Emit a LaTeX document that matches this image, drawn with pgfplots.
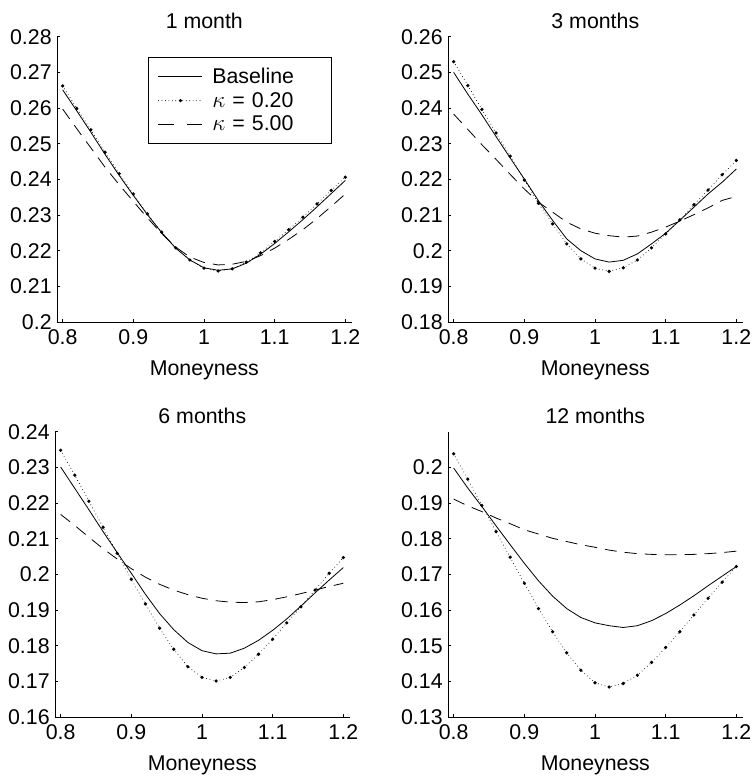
\documentclass[border=0pt]{standalone}
\usepackage{fontspec}
\setmainfont{Liberation Sans}
\usepackage{pgfplots}
\usepackage{pgfplotstable}
\pgfplotsset{compat=1.18}

\pgfplotstableread{
x base k02 k5
0.80 0.2651 0.2662 0.2597
0.82 0.2592 0.2599 0.2542
0.84 0.2532 0.2539 0.2488
0.86 0.2470 0.2476 0.2434
0.88 0.2411 0.2416 0.2385
0.90 0.2355 0.2359 0.2338
0.92 0.2301 0.2303 0.2292
0.94 0.2251 0.2252 0.2248
0.96 0.2207 0.2208 0.2210
0.98 0.2174 0.2174 0.2182
1.00 0.2152 0.2151 0.2167
1.02 0.2145 0.2143 0.2160
1.04 0.2149 0.2149 0.2162
1.06 0.2165 0.2168 0.2170
1.08 0.2190 0.2194 0.2186
1.10 0.2220 0.2226 0.2207
1.12 0.2253 0.2259 0.2232
1.14 0.2287 0.2294 0.2259
1.16 0.2323 0.2331 0.2290
1.18 0.2360 0.2369 0.2324
1.20 0.2397 0.2406 0.2359
}\tA

\pgfplotstableread{
x base k02 k5
0.80 0.2500 0.2530 0.2383
0.82 0.2439 0.2463 0.2340
0.84 0.2381 0.2396 0.2297
0.86 0.2320 0.2330 0.2256
0.88 0.2260 0.2265 0.2214
0.90 0.2201 0.2198 0.2173
0.92 0.2140 0.2133 0.2136
0.94 0.2085 0.2075 0.2108
0.96 0.2033 0.2019 0.2080
0.98 0.2000 0.1977 0.2061
1.00 0.1977 0.1951 0.2049
1.02 0.1968 0.1942 0.2042
1.04 0.1973 0.1952 0.2038
1.06 0.1991 0.1974 0.2041
1.08 0.2019 0.2008 0.2052
1.10 0.2049 0.2047 0.2066
1.12 0.2085 0.2086 0.2083
1.14 0.2122 0.2129 0.2101
1.16 0.2159 0.2170 0.2120
1.18 0.2192 0.2213 0.2141
1.20 0.2229 0.2253 0.2152
}\tB

\pgfplotstableread{
x base k02 k5
0.80 0.2301 0.2348 0.2168
0.82 0.2241 0.2278 0.2137
0.84 0.2181 0.2205 0.2104
0.86 0.2120 0.2132 0.2072
0.88 0.2061 0.2059 0.2043
0.90 0.2003 0.1986 0.2016
0.92 0.1944 0.1917 0.1992
0.94 0.1890 0.1849 0.1972
0.96 0.1845 0.1790 0.1956
0.98 0.1809 0.1741 0.1943
1.00 0.1786 0.1711 0.1933
1.02 0.1777 0.1701 0.1926
1.04 0.1779 0.1711 0.1922
1.06 0.1793 0.1739 0.1921
1.08 0.1815 0.1776 0.1923
1.10 0.1843 0.1818 0.1929
1.12 0.1875 0.1864 0.1937
1.14 0.1911 0.1909 0.1946
1.16 0.1948 0.1956 0.1956
1.18 0.1984 0.2003 0.1966
1.20 0.2019 0.2047 0.1975
}\tC

\pgfplotstableread{
x base k02 k5
0.80 0.1998 0.2038 0.1911
0.82 0.1942 0.1967 0.1892
0.84 0.1890 0.1893 0.1876
0.86 0.1836 0.1820 0.1858
0.88 0.1783 0.1748 0.1842
0.90 0.1731 0.1675 0.1825
0.92 0.1682 0.1604 0.1813
0.94 0.1639 0.1539 0.1801
0.96 0.1604 0.1480 0.1792
0.98 0.1579 0.1431 0.1783
1.00 0.1564 0.1396 0.1776
1.02 0.1556 0.1384 0.1768
1.04 0.1551 0.1394 0.1762
1.06 0.1556 0.1417 0.1758
1.08 0.1570 0.1453 0.1756
1.10 0.1590 0.1495 0.1755
1.12 0.1614 0.1539 0.1755
1.14 0.1640 0.1586 0.1756
1.16 0.1668 0.1633 0.1758
1.18 0.1695 0.1678 0.1761
1.20 0.1722 0.1722 0.1765
}\tD

\newcommand{\fs}{\fontsize{16}{18}\selectfont}

\pgfplotsset{
  panel/.style={
    scale only axis, width=221pt, height=214pt,
    axis lines=left, axis line style={-, line width=0.6pt},
    tick align=inside, major tick length=2.5pt,
    tick style={line width=0.6pt, black},
    xmin=0.792, xmax=1.209,
    xtick={0.8,0.9,1,1.1,1.2},
    scaled ticks=false,
    /pgf/number format/assume math mode=true,
    ticklabel style={font=\fs},
    yticklabel style={/pgf/number format/fixed, /pgf/number format/precision=2, xshift=-0.5pt},
    xticklabel style={yshift=-2.5pt},
    xlabel={Moneyness},
    xlabel style={font=\fs, at={(axis description cs:0.5,0)}, anchor=north, yshift=-25.5pt},
    title style={font=\fs, at={(axis description cs:0.5,1)}, anchor=south, yshift=-3.8pt},
    clip=false,
  },
  base/.style={black, line width=0.6pt},
  kone/.style={black, line width=0.7pt, line cap=round, dash pattern=on 0pt off 2.6pt,
    mark=*, mark size=0.85pt, mark options={solid}},
  kfive/.style={black, line width=0.6pt, dash pattern=on 9pt off 6pt},
  kfiveleg/.style={legend image code/.code={\draw[##1, dash pattern=on 11.5pt off 10pt] (0cm,0cm) -- (1.16cm,0cm);}},
}

\begin{document}
\begin{tikzpicture}
\useasboundingbox (0,0) rectangle (567pt,-583.5pt);

\begin{axis}[panel, at={(42.75pt,-241.5pt)}, anchor=south west,
  title={1 month}, ymin=0.2, ymax=0.28,
  ytick={0.2,0.21,0.22,0.23,0.24,0.25,0.26,0.27,0.28},
  legend style={at={(0.31,0.93)}, anchor=north west, draw=black, line width=0.5pt,
    font=\fs, inner xsep=7pt, inner ysep=5.5pt,
    nodes={inner ysep=2.6pt, text width=80pt, align=left},
    /tikz/every odd column/.append style={column sep=5pt}},
  legend cell align=left,
  legend image code/.code={\draw[mark repeat=2,mark phase=2,#1] plot coordinates {(0cm,0cm) (0.58cm,0cm) (1.16cm,0cm)};},
]
\addplot[base] table[x=x,y=base]{\tA};
\addlegendentry{Baseline}
\addplot[kone] table[x=x,y=k02]{\tA};
\addlegendentry{$\kappa$ = 0.20}
\addplot[kfive, kfiveleg] table[x=x,y=k5]{\tA};
\addlegendentry{$\kappa$ = 5.00}
\end{axis}

\begin{axis}[panel, at={(336pt,-241.5pt)}, anchor=south west,
  title={3 months}, ymin=0.18, ymax=0.26,
  ytick={0.18,0.19,0.2,0.21,0.22,0.23,0.24,0.25,0.26},
]
\addplot[base] table[x=x,y=base]{\tB};
\addplot[kone] table[x=x,y=k02]{\tB};
\addplot[kfive] table[x=x,y=k5]{\tB};
\end{axis}

\begin{axis}[panel, at={(41.25pt,-537.75pt)}, anchor=south west,
  title={6 months}, ymin=0.16, ymax=0.24,
  ytick={0.16,0.17,0.18,0.19,0.2,0.21,0.22,0.23,0.24},
]
\addplot[base] table[x=x,y=base]{\tC};
\addplot[kone] table[x=x,y=k02]{\tC};
\addplot[kfive] table[x=x,y=k5]{\tC};
\end{axis}

\begin{axis}[panel, at={(336pt,-537.75pt)}, anchor=south west,
  title={12 months}, ymin=0.13, ymax=0.21,
  ytick={0.13,0.14,0.15,0.16,0.17,0.18,0.19,0.2},
]
\addplot[base] table[x=x,y=base]{\tD};
\addplot[kone] table[x=x,y=k02]{\tD};
\addplot[kfive] table[x=x,y=k5]{\tD};
\end{axis}
\end{tikzpicture}
\end{document}
